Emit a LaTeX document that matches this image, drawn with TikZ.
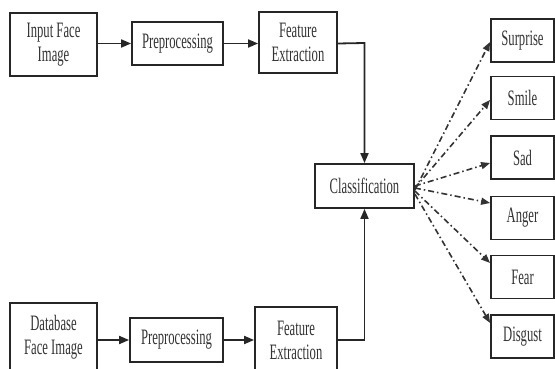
\documentclass[tikz,border=0pt]{standalone}
\usepackage{fontspec}
\setmainfont[FakeStretch=0.575]{Liberation Serif}
\usetikzlibrary{arrows.meta}
\begin{document}
\begin{tikzpicture}[x=1pt,y=-1pt,
  box/.style={draw=black!85, line width=1.8pt, align=center, inner sep=0pt,
    font=\fontsize{22}{24}\selectfont, text=black!80},
  flow/.style={draw=black!85, line width=1.8pt, -{Triangle[length=10pt,width=8pt]}},
  dd/.style={draw=black!80, line width=1.6pt, dash pattern=on 6pt off 3pt on 1.5pt off 3pt,
    -{Triangle[length=9pt,width=7pt]}}]
\useasboundingbox (0,0) rectangle (555,369);
\node[box, minimum width=87pt, minimum height=63pt] (in) at (53.5,44.5) {Input Face\\Image};
\node[box, minimum width=91pt, minimum height=43pt] (p1) at (177.5,43.5) {Preprocessing};
\node[box, minimum width=78pt, minimum height=61pt] (f1) at (298,42.5) {Feature\\Extraction};
\node[box, minimum width=99pt, minimum height=44pt] (cls) at (364.5,186) {Classification};
\node[box, minimum width=87pt, minimum height=68pt] (db) at (53.5,337) {Database\\Face Image};
\node[box, minimum width=93pt, minimum height=44pt] (p2) at (176.5,340) {Preprocessing};
\node[box, minimum width=82pt, minimum height=66pt] (f2) at (296,340) {Feature\\Extraction};
\node[box, minimum width=63pt, minimum height=43pt] (o1) at (522.5,40.5) {Surprise};
\node[box, minimum width=63pt, minimum height=43pt] (o2) at (522.5,98) {Smile};
\node[box, minimum width=63pt, minimum height=43pt] (o3) at (522.5,157.5) {Sad};
\node[box, minimum width=63pt, minimum height=43pt] (o4) at (522.5,218) {Anger};
\node[box, minimum width=63pt, minimum height=43pt] (o5) at (522.5,277) {Fear};
\node[box, minimum width=63pt, minimum height=43pt] (o6) at (522.5,336.5) {Disgust};
\coordinate (k1) at (364.5,43);
\coordinate (k2) at (364.5,340);
\draw[flow] (in.east |- p1.west) -- (p1.west);
\draw[flow] (p1.east) -- (p1.east -| f1.west);
\draw[flow] (p1.east -| f1.east) -- (k1) -- (cls.north);
\draw[flow] (db.east |- p2.west) -- (p2.west);
\draw[flow] (p2.east) -- (p2.east -| f2.west);
\draw[flow] (f2.east |- k2) -- (k2) -- (cls.south);
\draw[dd] ([yshift=-4pt]cls.east) -- ([yshift=-1.5pt]o1.west);
\draw[dd] ([yshift=-2pt]cls.east) -- ([yshift=-2pt]o2.west);
\draw[dd] ([yshift=0pt]cls.east) -- ([yshift=-5.5pt]o3.west);
\draw[dd] ([yshift=-2pt]cls.east) -- ([yshift=15pt]o4.west);
\draw[dd] ([yshift=-5pt]cls.east) -- ([yshift=14pt]o5.west);
\draw[dd] ([yshift=-8pt]cls.east) -- ([yshift=13.5pt]o6.west);
\end{tikzpicture}
\end{document}
